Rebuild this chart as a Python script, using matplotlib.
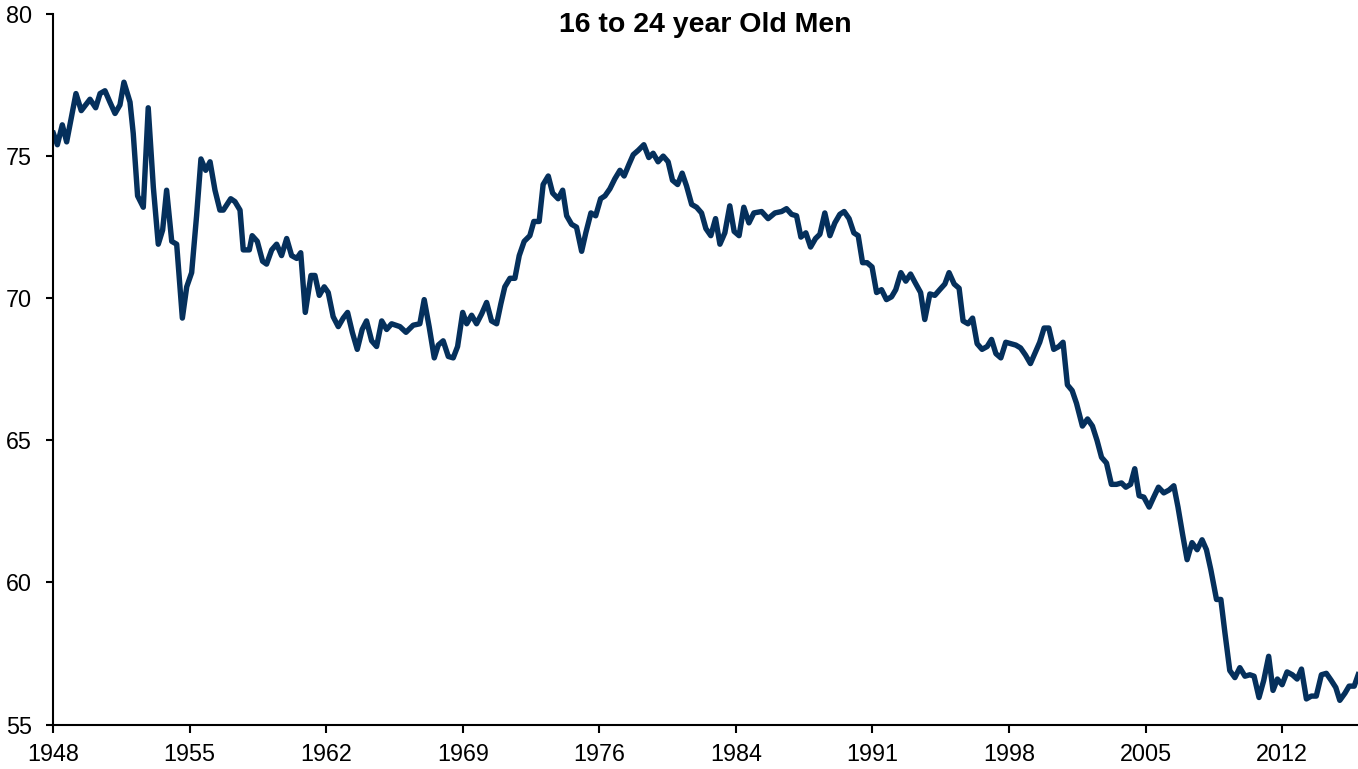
import matplotlib
matplotlib.use("Agg")
import matplotlib.pyplot as plt

plt.rcParams['font.family'] = ['Liberation Sans', 'DejaVu Sans']

# participation rate, 16 to 24 year old men
years = [
    1948.02, 1948.23, 1948.49, 1948.72, 1949.21, 1949.49, 1949.95, 1950.25, 1950.48, 1950.74,
    1951.00, 1951.27, 1951.53, 1951.74, 1952.06, 1952.23, 1952.46, 1952.76, 1953.02, 1953.29,
    1953.55, 1953.78, 1953.99, 1954.26, 1954.52, 1954.82, 1955.05, 1955.31, 1955.57, 1955.80,
    1956.05, 1956.28, 1956.54, 1956.80, 1956.98, 1957.37, 1957.59, 1957.86, 1958.03, 1958.35,
    1958.50, 1958.77, 1959.05, 1959.26, 1959.53, 1959.79, 1960.05, 1960.32, 1960.58, 1960.85,
    1961.06, 1961.30, 1961.60, 1961.81, 1962.04, 1962.30, 1962.51, 1962.77, 1963.04, 1963.30,
    1963.53, 1963.78, 1964.04, 1964.30, 1964.53, 1964.80, 1965.06, 1965.33, 1965.59, 1965.85,
    1966.29, 1966.61, 1966.99, 1967.34, 1967.57, 1967.83, 1968.10, 1968.31, 1968.57, 1968.84,
    1969.10, 1969.33, 1969.60, 1969.81, 1970.07, 1970.33, 1970.60, 1970.86, 1971.12, 1971.39,
    1971.61, 1971.82, 1972.09, 1972.35, 1972.58, 1972.84, 1973.14, 1973.35, 1973.63, 1973.84,
    1974.11, 1974.34, 1974.63, 1974.87, 1975.08, 1975.34, 1975.60, 1975.87, 1976.09, 1976.36,
    1976.61, 1976.87, 1977.10, 1977.36, 1977.62, 1977.89, 1978.11, 1978.36, 1978.59, 1978.85,
    1979.15, 1979.41, 1979.64, 1979.90, 1980.17, 1980.43, 1980.66, 1980.93, 1981.17, 1981.40,
    1981.67, 1981.93, 1982.19, 1982.42, 1982.68, 1982.93, 1983.16, 1983.42, 1983.68, 1983.91,
    1984.17, 1984.42, 1984.69, 1984.95, 1985.36, 1985.70, 1986.06, 1986.41, 1986.67, 1986.94,
    1987.20, 1987.43, 1987.69, 1987.94, 1988.20, 1988.43, 1988.69, 1988.96, 1989.22, 1989.48,
    1989.71, 1989.97, 1990.22, 1990.45, 1990.68, 1990.92, 1991.18, 1991.42, 1991.68, 1991.94,
    1992.21, 1992.43, 1992.70, 1992.96, 1993.21, 1993.45, 1993.74, 1993.96, 1994.23, 1994.49,
    1994.75, 1995.02, 1995.24, 1995.51, 1995.77, 1995.98, 1996.24, 1996.48, 1996.72, 1996.98,
    1997.25, 1997.48, 1997.71, 1997.97, 1998.23, 1998.50, 1998.76, 1999.01, 1999.27, 1999.53,
    1999.76, 2000.02, 2000.25, 2000.50, 2000.76, 2001.03, 2001.25, 2001.48, 2001.73, 2001.96,
    2002.27, 2002.54, 2002.80, 2003.04, 2003.28, 2003.54, 2003.80, 2004.07, 2004.33, 2004.56,
    2004.81, 2005.03, 2005.26, 2005.51, 2005.79, 2006.03, 2006.28, 2006.56, 2006.84, 2007.09,
    2007.31, 2007.55, 2007.79, 2008.05, 2008.32, 2008.58, 2008.81, 2009.04, 2009.34, 2009.57,
    2009.78, 2010.04, 2010.31, 2010.57, 2010.84, 2011.10, 2011.32, 2011.58, 2011.83, 2012.09,
    2012.32, 2012.55, 2012.80, 2013.06, 2013.34, 2013.59, 2013.82, 2014.08, 2014.34, 2014.60,
    2014.87, 2015.13, 2015.39, 2015.63, 2015.84, 2016.11, 2016.33, 2016.60, 2016.81,
]
rate = [
    75.8, 75.4, 76.1, 75.5, 77.2, 76.6, 77.0, 76.7, 77.2, 77.3,
    76.9, 76.5, 76.8, 77.6, 76.9, 75.8, 73.6, 73.2, 76.7, 73.9,
    71.9, 72.4, 73.8, 72.0, 71.9, 69.3, 70.4, 70.9, 72.9, 74.9,
    74.5, 74.8, 73.8, 73.1, 73.1, 73.5, 73.4, 73.1, 71.7, 71.7,
    72.2, 72.0, 71.3, 71.2, 71.7, 71.9, 71.5, 72.1, 71.5, 71.4,
    71.6, 69.5, 70.8, 70.8, 70.1, 70.4, 70.2, 69.35, 69.0, 69.3,
    69.5, 68.8, 68.2, 68.9, 69.2, 68.5, 68.3, 69.2, 68.9, 69.1,
    69.0, 68.8, 69.05, 69.1, 69.95, 69.0, 67.9, 68.35, 68.5, 67.95,
    67.9, 68.3, 69.5, 69.1, 69.4, 69.1, 69.45, 69.85, 69.2, 69.1,
    69.8, 70.4, 70.7, 70.7, 71.5, 72.0, 72.2, 72.7, 72.7, 74.0,
    74.3, 73.7, 73.5, 73.8, 72.9, 72.6, 72.5, 71.65, 72.3, 73.0,
    72.9, 73.5, 73.6, 73.85, 74.2, 74.5, 74.3, 74.7, 75.05, 75.2,
    75.4, 74.95, 75.1, 74.8, 75.0, 74.8, 74.15, 74.0, 74.4, 73.95,
    73.3, 73.2, 73.0, 72.45, 72.2, 72.8, 71.9, 72.3, 73.25, 72.35,
    72.2, 73.2, 72.65, 73.0, 73.05, 72.8, 73.0, 73.05, 73.15, 72.95,
    72.9, 72.15, 72.3, 71.8, 72.1, 72.25, 73.0, 72.2, 72.65, 72.95,
    73.05, 72.8, 72.3, 72.2, 71.25, 71.25, 71.1, 70.2, 70.3, 69.95,
    70.05, 70.3, 70.9, 70.6, 70.85, 70.55, 70.2, 69.25, 70.15, 70.1,
    70.3, 70.5, 70.9, 70.5, 70.35, 69.2, 69.1, 69.3, 68.4, 68.2,
    68.3, 68.55, 68.05, 67.9, 68.45, 68.4, 68.35, 68.25, 68.0, 67.7,
    68.05, 68.45, 68.95, 68.95, 68.2, 68.3, 68.45, 66.95, 66.75, 66.3,
    65.5, 65.75, 65.5, 65.0, 64.4, 64.2, 63.45, 63.45, 63.5, 63.35,
    63.45, 64.0, 63.05, 63.0, 62.65, 63.0, 63.35, 63.15, 63.25, 63.4,
    62.65, 61.7, 60.8, 61.4, 61.15, 61.5, 61.15, 60.45, 59.4, 59.4,
    58.25, 56.9, 56.65, 57.0, 56.7, 56.75, 56.7, 55.95, 56.55, 57.4,
    56.2, 56.6, 56.4, 56.85, 56.75, 56.6, 56.95, 55.9, 56.0, 56.0,
    56.75, 56.8, 56.55, 56.3, 55.85, 56.1, 56.35, 56.35, 56.75,
]

tick_labels = ['1948', '1955', '1962', '1969', '1976', '1984', '1991', '1998', '2005', '2012']
tick_step = 7.2
y_ticks = [55, 60, 65, 70, 75, 80]

fig = plt.figure(figsize=(13.58, 7.69), dpi=100)
ax = fig.add_axes([53 / 1358, 1 - 724.5 / 769, 1 - 53 / 1358, (724.5 - 14) / 769])

ax.plot(years, rate, color='#05305c', lw=3.9, solid_joinstyle='round')

ax.set_xlim(1948, 2016.8)
ax.set_ylim(55, 80)
ax.set_xticks([1948 + tick_step * i for i in range(len(tick_labels))])
ax.set_xticklabels(tick_labels)
ax.set_yticks(y_ticks)

for side in ['top', 'right']:
    ax.spines[side].set_visible(False)
for side in ['left', 'bottom']:
    ax.spines[side].set_linewidth(1.5)
    ax.spines[side].set_color('black')

ax.tick_params(axis='x', direction='out', length=6, width=1.5, labelsize=16.8, pad=7.5)
ax.tick_params(axis='y', direction='out', length=5, width=1.5, labelsize=16.8, pad=10)

ax.text(0.5, 0.975, '16 to 24 year Old Men', transform=ax.transAxes, ha='center',
        va='baseline', fontsize=20.5, fontweight='bold')

fig.savefig('out.png', dpi=100)
